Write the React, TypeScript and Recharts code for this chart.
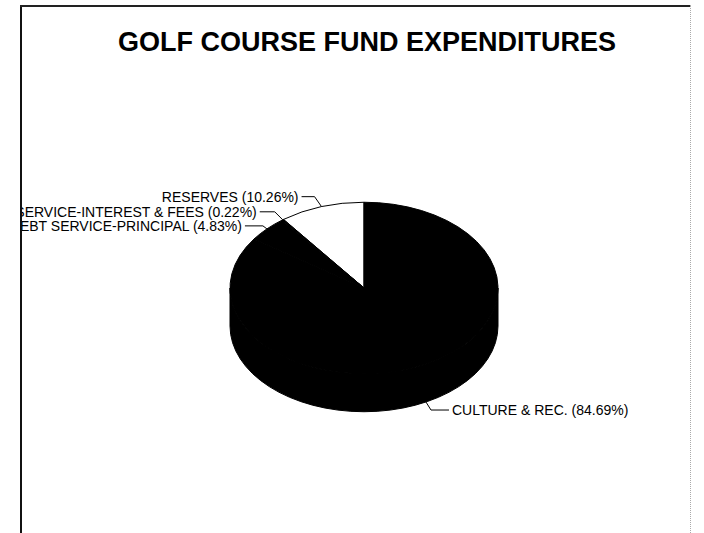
import React from "react";
import { PieChart, Pie, Cell } from "recharts";

const categories = [
  "RESERVES",
  "DEBT SERVICE-INTEREST & FEES",
  "DEBT SERVICE-PRINCIPAL",
  "CULTURE & REC.",
];
const shares = [10.26, 0.22, 4.83, 84.69];

const data = categories.map((name, i) => ({ name, value: shares[i] }));

// styling
const sliceFills = ["#ffffff", "#000000", "#000000", "#000000"];
const TILT = 0.64; // vertical squash of the pie top
const DEPTH = 38; // thickness of the 3d pie
const RAD = Math.PI / 180;
const FONT = "'Liberation Sans', Arial, sans-serif";

// leader line tweaks per label
const elbowDx = [-7, -8, -4, 5];
const elbowDy = [-10, -8, -3, 8];
const runLen = [13, 15, 18, 18];

const pt = (cx: number, cy: number, rx: number, ry: number, a: number) => [
  cx + rx * Math.cos(a * RAD),
  cy - ry * Math.sin(a * RAD),
];

const Slice3D = (props: any) => {
  const { cx, cy, outerRadius, startAngle, endAngle, fill } = props;
  const rx = outerRadius;
  const ry = outerRadius * TILT;
  const a0 = Math.min(startAngle, endAngle);
  const a1 = Math.max(startAngle, endAngle);

  const walls: React.ReactNode[] = [];
  [-360, 0, 360].forEach((base) => {
    const s = Math.max(a0, base + 180);
    const e = Math.min(a1, base + 360);
    if (e > s) {
      const [x1, y1] = pt(cx, cy, rx, ry, s);
      const [x2, y2] = pt(cx, cy, rx, ry, e);
      walls.push(
        <path
          key={base}
          d={`M${x1},${y1} A${rx},${ry} 0 0 0 ${x2},${y2} L${x2},${y2 + DEPTH} A${rx},${ry} 0 0 1 ${x1},${y1 + DEPTH} Z`}
          fill={fill === "#ffffff" ? "#dddddd" : "#000000"}
          stroke="#000"
          strokeWidth={1}
        />
      );
    }
  });

  const [sx, sy] = pt(cx, cy, rx, ry, a0);
  const [ex, ey] = pt(cx, cy, rx, ry, a1);
  const large = a1 - a0 > 180 ? 1 : 0;
  return (
    <g>
      {walls}
      <path
        d={`M${cx},${cy} L${sx},${sy} A${rx},${ry} 0 ${large} 0 ${ex},${ey} Z`}
        fill={fill}
        stroke="#000"
        strokeWidth={1}
      />
    </g>
  );
};

const renderLabel = (props: any) => {
  const { cx, cy, midAngle, outerRadius, index, name, value } = props;
  const rx = outerRadius;
  const ry = outerRadius * TILT;
  const [ax, ay0] = pt(cx, cy, rx, ry, midAngle);
  const ay = Math.sin(midAngle * RAD) < 0 ? ay0 + DEPTH : ay0;
  const left = Math.cos(midAngle * RAD) < 0;
  const bx = ax + elbowDx[index];
  const by = ay + elbowDy[index];
  const dir = left ? -1 : 1;
  const ex = bx + dir * runLen[index];
  return (
    <g key={`lbl-${index}`}>
      <polyline
        points={`${ax},${ay} ${bx},${by} ${ex},${by}`}
        fill="none"
        stroke="#000"
        strokeWidth={1}
      />
      <text
        x={ex + dir * 3}
        y={by}
        textAnchor={left ? "end" : "start"}
        dominantBaseline="central"
        fontFamily={FONT}
        fontSize={14}
        fill="#000"
      >
        {`${name} (${Number(value).toFixed(2)}%)`}
      </text>
    </g>
  );
};

export default function App() {
  return (
    <div style={{ position: "absolute", left: 0, top: 0, width: 704, height: 533, background: "#fff" }}>
      {/* frame */}
      <div style={{ position: "absolute", left: 20, top: 5, width: 2, height: 528, background: "#111" }} />
      <div style={{ position: "absolute", left: 20, top: 5, width: 670, height: 2, background: "#222" }} />
      <div style={{ position: "absolute", left: 690, top: 5, width: 0, height: 528, borderLeft: "1px dotted #aaa" }} />

      <div
        style={{
          position: "absolute",
          left: 0,
          width: 734,
          top: 27,
          textAlign: "center",
          fontFamily: FONT,
          fontWeight: "bold",
          fontSize: 27,
          color: "#000",
          whiteSpace: "nowrap",
        }}
      >
        GOLF COURSE FUND EXPENDITURES
      </div>

      <div style={{ position: "absolute", left: 22, top: 7, width: 667, height: 526, overflow: "hidden" }}>
        <div style={{ position: "absolute", left: -22, top: -7 }}>
          <PieChart width={704} height={533} margin={{ top: 0, right: 0, bottom: 0, left: 0 }}>
            <Pie
              data={data}
              dataKey="value"
              nameKey="name"
              cx={364}
              cy={288}
              outerRadius={134}
              startAngle={90}
              endAngle={450}
              stroke="#000"
              shape={Slice3D}
              label={renderLabel}
              labelLine={false}
              isAnimationActive={false}
            >
              {data.map((d, i) => (
                <Cell key={d.name} fill={sliceFills[i]} />
              ))}
            </Pie>
          </PieChart>
        </div>
      </div>
    </div>
  );
}
